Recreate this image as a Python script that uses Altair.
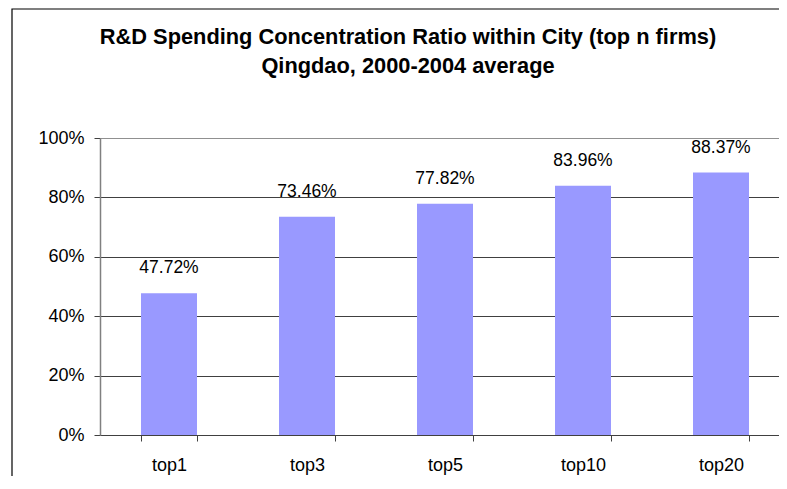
import altair as alt
import pandas as pd

categories = ["top1", "top3", "top5", "top10", "top20"]
values = [0.4772, 0.7346, 0.7782, 0.8396, 0.8837]
labels = ["47.72%", "73.46%", "77.82%", "83.96%", "88.37%"]
y_ticks = [0, 0.2, 0.4, 0.6, 0.8, 1.0]
title_lines = ["R&D Spending Concentration Ratio within City (top n firms)",
               "Qingdao, 2000-2004 average"]

df = pd.DataFrame({"cat": categories, "val": values, "lab": labels})

FONT = "Arial, Liberation Sans, sans-serif"

x = alt.X("cat:N", sort=categories, title=None,
          scale=alt.Scale(paddingInner=0.594, paddingOuter=0.297),
          axis=alt.Axis(labelAngle=0, tickBand="extent", tickSize=6,
                        domainColor="#404040", tickColor="#404040",
                        labelFontSize=18, labelFont=FONT, labelColor="#000",
                        labelPadding=15, grid=False))
y = alt.Y("val:Q", title=None,
          scale=alt.Scale(domain=[0, 1], nice=False, zero=True),
          axis=alt.Axis(values=y_ticks, format=".0%", tickSize=6,
                        labelFontSize=18, labelFont=FONT, labelColor="#000",
                        labelPadding=10, domainColor="#808080", tickColor="#404040",
                        grid=True, gridColor={"condition": {"test": "datum.value === 1", "value": "#909090"}, "value": "#404040"},
                        gridWidth=1, domainWidth=1.5))

bars = alt.Chart(df).mark_bar(color="#9999FF", size=56).encode(x=x, y=y)
text = alt.Chart(df).mark_text(fontSize=17.5, font=FONT, color="#000", baseline="bottom", dy=-16).encode(
    x=alt.X("cat:N", sort=categories), y="val:Q", text="lab:N")

frame = alt.Chart(pd.DataFrame({"k": [0]})).mark_rect(
    fill=None, fillOpacity=0, stroke="#000", strokeWidth=1.2).encode(
    x=alt.value(-88), x2=alt.value(760), y=alt.value(-129), y2=alt.value(420))

title1 = alt.Chart(pd.DataFrame({"t": [title_lines[0]]})).mark_text(
    fontSize=21.8, font=FONT, fontWeight="bold", color="#000", baseline="middle", align="center").encode(
    x=alt.value(308), y=alt.value(-101), text="t:N")
title2 = alt.Chart(pd.DataFrame({"t": [title_lines[1]]})).mark_text(
    fontSize=21.8, font=FONT, fontWeight="bold", color="#000", baseline="middle", align="center").encode(
    x=alt.value(308), y=alt.value(-72), text="t:N")

chart = alt.layer(frame, bars, text, title1, title2).properties(
    width=690, height=297,
    padding={"left": 92, "top": 130, "right": -11, "bottom": 41},
    autosize=alt.AutoSizeParams(type="none"),
).configure_view(stroke=None)

chart.save("out.html", embed_options={"renderer": "svg", "actions": False})
